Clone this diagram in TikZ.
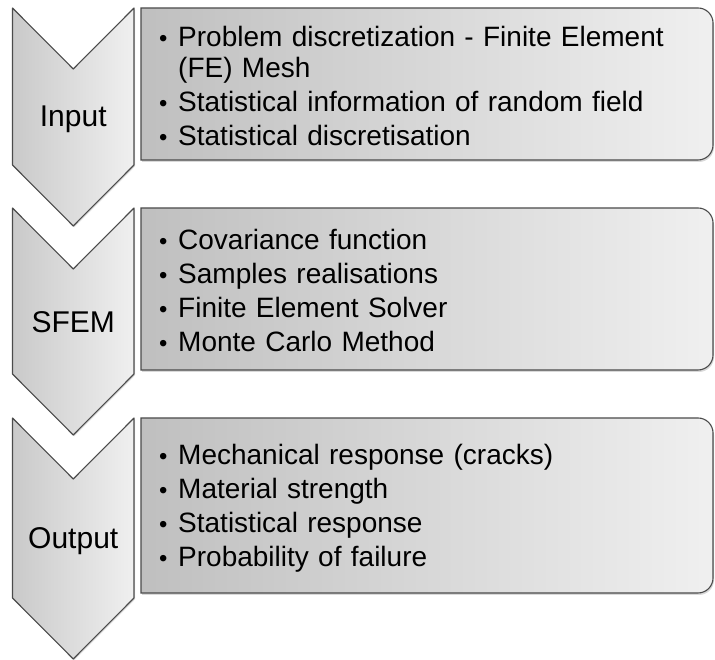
\documentclass[tikz,border=0pt]{standalone}
\usepackage{fontspec}
\setmainfont{Liberation Sans}
\usetikzlibrary{shadows}

\definecolor{edgegray}{RGB}{75,75,75}
\newcommand{\bul}[1]{\par\hangindent=19pt\hangafter=1\noindent\makebox[19pt][l]{\scalebox{0.85}{\textbullet}}#1}

\begin{document}
\begin{tikzpicture}[x=1pt, y=1pt,
 chevron/.style={draw=edgegray,line width=1.1pt,line join=round,left color=black!21,right color=black!6,drop shadow={shadow xshift=1pt,shadow yshift=-1.5pt,opacity=0.25}},
 stagebox/.style={draw=edgegray,line width=1.1pt,left color=black!25,right color=black!6,drop shadow={shadow xshift=1pt,shadow yshift=-2pt,opacity=0.3}},
 stagelabel/.style={font=\fontsize{30}{34}\selectfont,inner sep=0pt},
 itemlist/.style={anchor=west,text width=540pt,align=left,inner sep=0pt,font=\fontsize{28}{31}\selectfont\setlength{\parskip}{3pt}}]
\useasboundingbox (0,0) rectangle (715,660);
% chevrons down the left side
\foreach \t/\s in {652/495,452/286,242/62}
 \draw[chevron] (12.5,\t) -- (73.25,\t-61) -- (134,\t) -- (134,\s) -- (73.25,\s-61) -- (12.5,\s) -- cycle;
% boxes, rounded on the right only
\foreach \t/\b in {652/500,452/290,242/67}
 \draw[stagebox] (141,\b) -- (141,\t) -- (698,\t) arc[start angle=90,end angle=0,radius=15] -- (713,\b+15) arc[start angle=0,end angle=-90,radius=15] -- cycle;
\node[stagelabel] (input) at (73.25,541) {Input};
\node[stagelabel] (sfem) at (73.25,338) {SFEM};
\node[stagelabel] (output) at (73.25,119) {Output};
\node[itemlist] (inputlist) at (159,581) {\bul{Problem discretization - Finite Element (FE) Mesh}\bul{Statistical information of random field}\bul{Statistical discretisation}};
\node[itemlist] (sfemlist) at (159,376) {\bul{Covariance function}\bul{Samples realisations}\bul{Finite Element Solver}\bul{Monte Carlo Method}};
\node[itemlist] (outputlist) at (159,158.5) {\bul{Mechanical response (cracks)}\bul{Material strength}\bul{Statistical response}\bul{Probability of failure}};
\end{tikzpicture}
\end{document}
